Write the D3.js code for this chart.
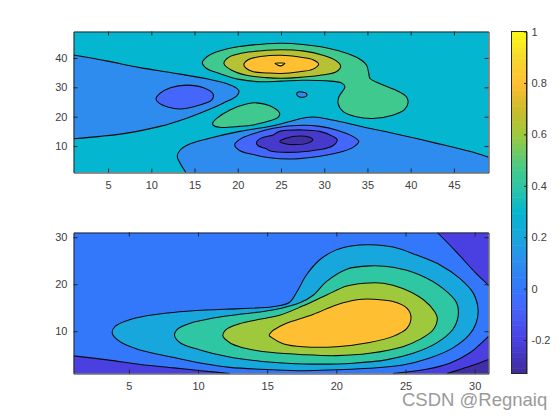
<!DOCTYPE html>
<html>
<head>
<meta charset="utf-8">
<script src="https://d3js.org/d3.v7.min.js"></script>
<style>
    html, body { margin: 0; padding: 0; background: #fff; }
    svg { display: block; font-family: "Liberation Sans", Arial, sans-serif; }
</style>
</head>
<body>
<div id="chart"></div>
<script>
// contour outlines, in data units [x, y]
const topWedge = [[1,41],[4.8,39],[8.7,36.7],[12.5,34.9],[16.4,32.9],[18.7,31.3],[19.85,29.7],[20.15,28.7],[19.85,27],[18.3,24.6],[16.4,22.1],[14.1,19.5],[11,16.7],[7.15,14.4],[4.1,13.3],[1,12.5]];
const topWedgeHole = [[10.54,26],[11,27.9],[12.2,29.85],[14.1,30.75],[16.05,29.85],[17.15,27.7],[17,25.7],[15.6,24],[13.3,22.6],[12,23.2],[10.9,24.6]];
const topValley = [[14,1],[13.3,4.3],[13,6.5],[13.3,8.5],[14.3,10.5],[16.4,12.4],[20.2,15],[24.1,16.9],[26,18.4],[27.9,19.7],[28.7,19.9],[29.85,19.5],[31.4,18.6],[35.2,16.1],[39.1,13.6],[42.9,11],[46.8,8.2],[49,6.2]];
const topValley2 = [[19.65,10.5],[20.2,12.2],[21.8,14.2],[24.1,16.1],[27.5,17.1],[29.5,16.7],[31.4,15.5],[33.3,13.3],[34,11.6],[33.5,9.9],[32.2,8.2],[29.5,6.5],[26.4,5.6],[23.7,6],[21.8,7.1],[20.2,8.5]];
const topValley3 = [[22.15,11.2],[22.7,12.7],[24.1,13.8],[24.85,15],[27.5,15.5],[29.5,15],[31,13.3],[31.5,12.2],[31,10.1],[29.5,8.8],[26.8,7.9],[23.7,8.4],[23.3,9.1],[22.35,10.1]];
const topValley4 = [[24.85,11.6],[25.6,12.7],[27.15,13.4],[28.3,13],[28.7,12.2],[28.1,11],[26.8,10.5],[25.6,10.7]];
const topRidge = [[15.9,38.4],[16.2,39.8],[17.5,42],[20.2,43.9],[23.3,44.8],[25,45],[27.5,44.6],[30.2,43.5],[32.5,41.7],[34,39.8],[34.9,37.5],[35.15,34.7],[35.3,33],[36.4,31.3],[38.3,29],[39.5,26.8],[39.7,24.8],[39.3,22.5],[38,20.6],[35.6,19.4],[33.7,20],[32.2,21.7],[31.6,24.5],[31.7,26.8],[32.4,30.2],[32,31.5],[30.2,32.2],[27.5,32.4],[25,32.1],[22.5,31.9],[20.2,32.7],[17.9,34.7],[16.4,36.4]];
const topPeak1 = [[18.4,38.1],[18.9,40.1],[20.6,41.7],[23.3,42.6],[25,42.8],[27.5,42.4],[29.85,40.9],[31.4,39],[31.9,37.2],[31.4,35.3],[29.5,34.1],[26.8,33.3],[25,33.1],[23.3,33.3],[21,34.1],[19.3,35.8]];
const topPeak2 = [[20.7,37.7],[21.2,39.4],[22.9,40.6],[25,40.9],[27.15,40.3],[28.7,39.4],[29.35,37.9],[28.7,36.2],[27.15,35.3],[25,34.7],[23.3,34.9],[21.8,35.3],[21,36.4]];
const topPeak3 = [[24.3,38.2],[24.9,38.3],[25.45,38.2],[24.95,37.3]];
const topBump = [[17.1,17.8],[17.6,19.5],[19.1,22.3],[21,24.3],[22.2,24.7],[23.7,23.7],[24.8,21.4],[24.85,20.8],[24.65,19.8],[23.7,18.6],[21.8,17.2],[20.2,16.7],[17.9,16.4],[17.2,17]];
const topDimple = [[26.8,27.7],[27,28.4],[27.7,28.2],[28,27.7],[27.9,26.9],[27.15,26.7]];

const bottomCornerTR = [[27.3,31],[28.65,26.95],[30.1,22.3],[30.85,20.2],[31,19.7]];
const bottomCornerBL = [[1,4.75],[3.45,3.9],[5.85,2.9],[8.25,2.2],[10.2,1.6],[12.3,1]];
const bottomCornerBR = [[24.1,1],[26.5,1.9],[28.2,3.2],[29.6,5.3],[30.6,7.8],[31,8.9]];
const bottomCornerBR2 = [[28,1],[29.6,2.5],[31,4]];
const bottomLevel1 = [[3.8,9.6],[4,11],[4.9,12.3],[6.3,13.3],[8.2,14],[10.6,14.5],[13,14.8],[15.4,15.2],[16.6,16.1],[17.15,18.4],[17.85,22],[18.8,25.2],[20,27.3],[21.2,28.2],[22.4,28.4],[24.1,27.9],[25.8,26.2],[27.5,24.1],[28.9,21.3],[29.9,18.1],[30.25,14.5],[30.1,11.7],[29.6,9.2],[28.4,6.4],[26.75,4.3],[24.8,2.8],[22.4,2.1],[20,1.8],[17.6,1.6],[15.4,1.8],[12.3,2.3],[10.6,3],[8.2,4.45],[5.8,6],[4.36,7.77]];
const bottomLevel2 = [[8.3,9.2],[8.5,10.4],[9.45,11.7],[11.1,12.8],[13,13.6],[15.4,14.5],[17.4,16.1],[18.35,17.7],[19.3,20.6],[20.75,23.2],[22.4,23.9],[24.1,23.6],[26,22],[27.7,19.1],[28.7,16],[28.8,13.1],[28.4,10.3],[27.2,7.4],[25.55,5.3],[23.6,3.9],[21.2,3.2],[18.8,3],[16.4,3.2],[14.5,3.6],[12.1,4.6],[10.15,6],[8.7,7.55]];
const bottomLevel3 = [[11.8,9],[12,10.3],[13,11.6],[14.2,12.4],[15.9,13.4],[17.6,15.4],[19.3,17.7],[20.75,19.6],[22,20.2],[23.4,20.2],[24.8,19.1],[26.3,16.7],[27.1,14.2],[27.3,12.8],[27,10.3],[26,8.2],[24.8,6.7],[22.4,5.3],[20,4.8],[17.6,5],[15.2,5.5],[14.2,5.9],[13,6.7],[12.3,7.55]];
const bottomLevel4 = [[15.15,9.1],[15.4,10.1],[15.9,11],[16.4,11.7],[18.35,13.6],[20,15.6],[21.5,16.7],[22.7,16.8],[24.1,16.3],[25.1,14.9],[25.4,12.9],[25.1,10.6],[24.1,8.9],[22.4,7.6],[20,6.7],[17.6,6.7],[16.2,7.3],[15.3,8.7]];

// colour height of each filled region
const topBase = 0.3;
const bottomBase = 0;

const topXTicks = [5, 10, 15, 20, 25, 30, 35, 40, 45];
const topYTicks = [10, 20, 30, 40];
const bottomXTicks = [5, 10, 15, 20, 25, 30];
const bottomYTicks = [10, 20, 30];
const barTicks = [-0.2, 0, 0.2, 0.4, 0.6, 0.8, 1];

// colormap as it looks in the colorbar
const mapValues = [-0.33, -0.2, -0.07, 0, 0.1, 0.2, 0.3, 0.4, 0.46, 0.6, 0.7, 0.8, 0.9, 1];
const mapColors = ["#3e2c9a", "#4a40e2", "#4566fb", "#3377fb", "#2e8cef", "#18a7dc", "#04b6cf", "#2fc6a3", "#40c98e", "#9fc93c", "#cdbb2a", "#ffbf33", "#f6d92c", "#fbfa15"];
const color = d3.scaleLinear().domain(mapValues).range(mapColors).clamp(true);

const topRegions = [
    { points: topWedge, value: 0.1, open: true, corners: [] },
    { points: topWedgeHole, value: -0.07 },
    { points: topValley, value: 0.1, open: true, corners: [[49, 1]] },
    { points: topValley2, value: -0.07 },
    { points: topValley3, value: -0.24 },
    { points: topValley4, value: -0.31 },
    { points: topRidge, value: 0.46 },
    { points: topPeak1, value: 0.65 },
    { points: topPeak2, value: 0.8 },
    { points: topPeak3, value: 0.97 },
    { points: topBump, value: 0.46 },
    { points: topDimple, value: 0.1 }
];
const bottomRegions = [
    { points: bottomCornerTR, value: -0.2, open: true, corners: [[31, 31]] },
    { points: bottomCornerBL, value: -0.2, open: true, corners: [[1, 1]] },
    { points: bottomCornerBR, value: -0.2, open: true, corners: [[31, 1]] },
    { points: bottomCornerBR2, value: -0.31, open: true, corners: [[31, 1]] },
    { points: bottomLevel1, value: 0.2 },
    { points: bottomLevel2, value: 0.4 },
    { points: bottomLevel3, value: 0.6 },
    { points: bottomLevel4, value: 0.8 }
];

const svg = d3.select("#chart").append("svg")
    .attr("width", 560)
    .attr("height", 420);

const left = 73.5, right = 488.5;
const axisColor = "#262626", labelColor = "#404040";
const lineWidth = 1.05;

function drawPanel(id, top, bottom, xDomain, yDomain, xTicks, yTicks, base, regions) {
    const x = d3.scaleLinear().domain(xDomain).range([left, right]);
    const y = d3.scaleLinear().domain(yDomain).range([bottom, top]);

    svg.append("clipPath").attr("id", id)
      .append("rect")
        .attr("x", left).attr("y", top)
        .attr("width", right - left).attr("height", bottom - top);

    const g = svg.append("g").attr("clip-path", `url(#${id})`);
    g.append("rect")
        .attr("x", left).attr("y", top)
        .attr("width", right - left).attr("height", bottom - top)
        .attr("fill", color(base));

    const closedLine = d3.line().x(d => x(d[0])).y(d => y(d[1])).curve(d3.curveCatmullRomClosed.alpha(0.5));
    const openLine = d3.line().x(d => x(d[0])).y(d => y(d[1])).curve(d3.curveCatmullRom.alpha(0.5));

    regions.forEach(r => {
        if (r.open) {
            const tail = r.corners.map(c => `L${x(c[0])},${y(c[1])}`).join("");
            g.append("path")
                .attr("d", openLine(r.points) + tail + "Z")
                .attr("fill", color(r.value));
            g.append("path")
                .attr("d", openLine(r.points))
                .attr("fill", "none")
                .attr("stroke", "#0a0a0a")
                .attr("stroke-width", lineWidth);
        } else {
            g.append("path")
                .attr("d", closedLine(r.points))
                .attr("fill", color(r.value))
                .attr("stroke", "#0a0a0a")
                .attr("stroke-width", lineWidth);
        }
    });

    // box with inward ticks on all four sides
    const style = a => {
        a.selectAll("path, line").attr("stroke", axisColor).attr("stroke-width", 1);
        a.selectAll("text").attr("fill", labelColor).attr("font-size", 11).attr("font-family", null);
    };
    svg.append("g").attr("transform", `translate(0,${bottom})`)
        .call(d3.axisBottom(x).tickValues(xTicks).tickSizeInner(-4).tickSizeOuter(0).tickPadding(9))
        .call(style);
    svg.append("g").attr("transform", `translate(0,${top})`)
        .call(d3.axisTop(x).tickValues(xTicks).tickSizeInner(-4).tickSizeOuter(0).tickFormat(""))
        .call(style);
    svg.append("g").attr("transform", `translate(${left},0)`)
        .call(d3.axisLeft(y).tickValues(yTicks).tickSizeInner(-4).tickSizeOuter(0).tickPadding(6))
        .call(style);
    svg.append("g").attr("transform", `translate(${right},0)`)
        .call(d3.axisRight(y).tickValues(yTicks).tickSizeInner(-4).tickSizeOuter(0).tickFormat(""))
        .call(style);
}

drawPanel("clip-top", 31.5, 172.5, [1, 49], [1, 49], topXTicks, topYTicks, topBase, topRegions);
drawPanel("clip-bottom", 232.5, 373.5, [1, 31], [1, 31], bottomXTicks, bottomYTicks, bottomBase, bottomRegions);

// colorbar
const barLeft = 511.5, barRight = 526.5;
const barScale = d3.scaleLinear().domain([-0.33, 1]).range([373.5, 31.5]);
const steps = d3.range(64);
const stepValue = d3.scaleLinear().domain([0, 64]).range([-0.33, 1]);
svg.append("g").selectAll("rect")
    .data(steps)
    .join("rect")
        .attr("x", barLeft)
        .attr("width", barRight - barLeft)
        .attr("y", d => barScale(stepValue(d + 1)))
        .attr("height", d => barScale(stepValue(d)) - barScale(stepValue(d + 1)) + 0.5)
        .attr("fill", d => color(stepValue(d + 0.5)));
svg.append("rect")
    .attr("x", barLeft).attr("y", 31.5)
    .attr("width", barRight - barLeft).attr("height", 342)
    .attr("fill", "none").attr("stroke", axisColor).attr("stroke-width", 1);
const barAxis = svg.append("g").attr("transform", `translate(${barRight},0)`)
    .call(d3.axisRight(barScale).tickValues(barTicks).tickSizeInner(-2.5).tickSizeOuter(0).tickPadding(5).tickFormat(d => d));
barAxis.select(".domain").attr("stroke", axisColor).attr("stroke-width", 1);
barAxis.selectAll("line").attr("stroke", axisColor).attr("stroke-width", 1);
barAxis.selectAll("text").attr("fill", labelColor).attr("font-size", 11).attr("font-family", null);

// watermark
svg.append("text")
    .attr("x", 402)
    .attr("y", 406)
    .attr("font-size", 18.5)
    .attr("fill", "#9a9a9a")
    .text("CSDN @Regnaiq");
</script>
</body>
</html>
